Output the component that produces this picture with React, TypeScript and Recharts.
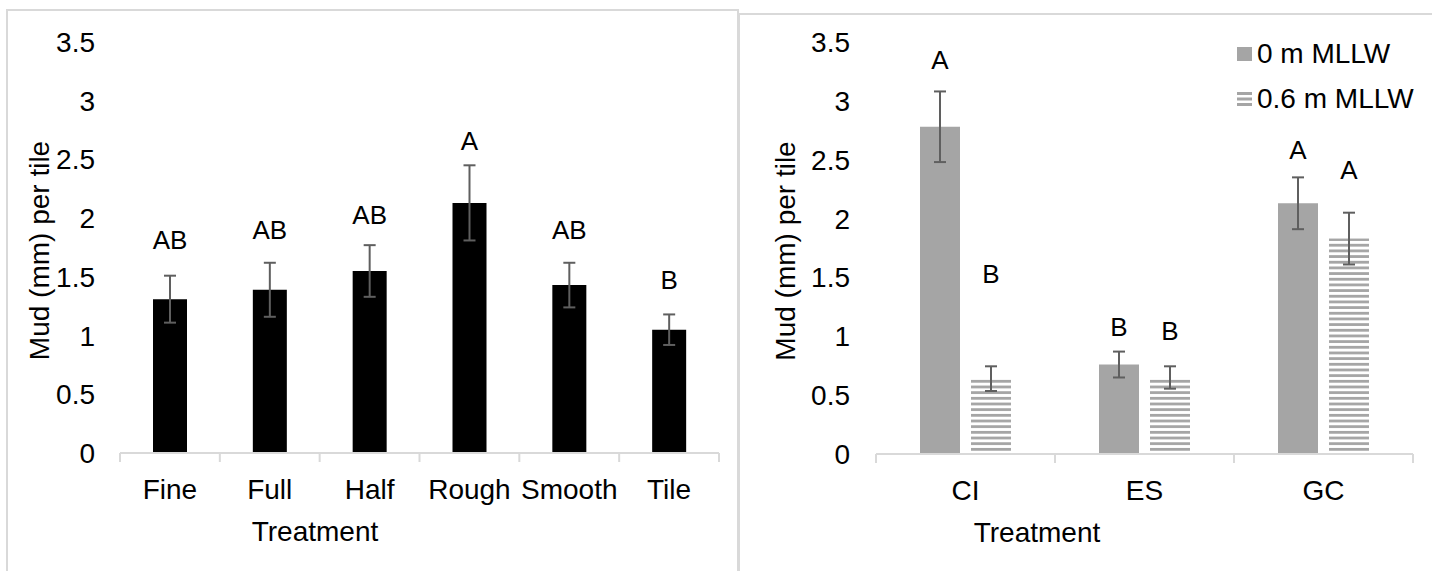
import { BarChart, Bar, XAxis, YAxis, ErrorBar, Legend, LabelList } from 'recharts';

// left panel: mud per tile by surface treatment
const treatments = ['Fine', 'Full', 'Half', 'Rough', 'Smooth', 'Tile'];
const mudMeans = [1.31, 1.39, 1.55, 2.13, 1.43, 1.05];
const mudErrors = [0.2, 0.23, 0.22, 0.32, 0.19, 0.13];
const mudLetters = ['AB', 'AB', 'AB', 'A', 'AB', 'B'];
const mudLetterAt = [1.81, 1.9, 2.03, 2.66, 1.9, 1.47]; // height of each letter, in mm

// right panel: mud per tile by site and tidal height
const sites = ['CI', 'ES', 'GC'];
const lowMeans = [2.78, 0.76, 2.13];
const lowErrors = [0.3, 0.11, 0.22];
const lowLetters = ['A', 'B', 'A'];
const lowLetterAt = [3.35, 1.08, 2.58];
const highMeans = [0.64, 0.65, 1.83];
const highErrors = [0.105, 0.095, 0.22];
const highLetters = ['B', 'B', 'A'];
const highLetterAt = [1.53, 1.045, 2.41];

const yTicks = [0, 0.5, 1, 1.5, 2, 2.5, 3, 3.5];

const FONT = '"Liberation Sans", Arial, sans-serif';
const AXIS_GREY = '#d9d9d9';
const ERR_GREY = '#5f5f5f';
const BAR_GREY = '#a5a5a5';
const TEXT_SIZE = 28;

const leftData = treatments.map((t, i) => ({
  name: t,
  mean: mudMeans[i],
  err: mudErrors[i],
  letter: mudLetters[i],
}));

const rightData = sites.map((s, i) => ({
  name: s,
  low: lowMeans[i],
  lowErr: lowErrors[i],
  lowLetter: lowLetters[i],
  high: highMeans[i],
  highErr: highErrors[i],
  highLetter: highLetters[i],
}));

// significance letter, placed at its own height using the bar's pixel scale
const letterLabel = (means: number[], at: number[]) => (props: any) => {
  const vb = props.viewBox || props;
  const i = props.index ?? 0;
  const pxPerUnit = vb.height / means[i];
  const base = vb.y + vb.height;
  return (
    <text
      x={vb.x + vb.width / 2}
      y={base - at[i] * pxPerUnit}
      textAnchor="middle"
      dominantBaseline="central"
      fontSize={26}
      fontFamily={FONT}
      fill="#000"
    >
      {props.value}
    </text>
  );
};

// category label plus tick marks on the category boundaries
const catTick = (count: number, band: number) => (props: any) => {
  const { x, y, payload } = props;
  const half = payload.offset || band / 2;
  const last = payload.index === count - 1;
  return (
    <g>
      <line x1={x - half} x2={x - half} y1={y} y2={y + 9} stroke={AXIS_GREY} strokeWidth={2} />
      {last && <line x1={x + half} x2={x + half} y1={y} y2={y + 9} stroke={AXIS_GREY} strokeWidth={2} />}
      <text x={x} y={y + 36} textAnchor="middle" dominantBaseline="central" fontSize={TEXT_SIZE} fontFamily={FONT} fill="#000">
        {payload.value}
      </text>
    </g>
  );
};

const xTitle = (dx: number) => (props: any) => {
  const vb = props.viewBox;
  return (
    <text x={vb.x + dx} y={vb.y + 78} textAnchor="middle" dominantBaseline="central" fontSize={TEXT_SIZE} fontFamily={FONT} fill="#000">
      Treatment
    </text>
  );
};

const yTitle = (cx: number) => (props: any) => {
  const vb = props.viewBox;
  const cy = vb.y + vb.height / 2 + 3;
  return (
    <text
      x={cx}
      y={cy}
      transform={`rotate(-90, ${cx}, ${cy})`}
      textAnchor="middle"
      dominantBaseline="central"
      fontSize={TEXT_SIZE}
      fontFamily={FONT}
      fill="#000"
    >
      Mud (mm) per tile
    </text>
  );
};

const StripeIcon = () => (
  <svg width={15} height={14} style={{ display: 'block' }}>
    <rect x={0} y={0} width={15} height={3} fill={BAR_GREY} />
    <rect x={0} y={5.5} width={15} height={3} fill={BAR_GREY} />
    <rect x={0} y={11} width={15} height={3} fill={BAR_GREY} />
  </svg>
);

const renderLegend = (props: any) => {
  const items = props.payload || [];
  return (
    <div style={{ fontFamily: FONT, fontSize: TEXT_SIZE, color: '#000' }}>
      {items.map((entry: any) => (
        <div key={entry.value} style={{ display: 'flex', alignItems: 'center', height: 45, whiteSpace: 'nowrap' }}>
          {entry.dataKey === 'high' ? (
            <StripeIcon />
          ) : (
            <div style={{ width: 15, height: 14, background: BAR_GREY }} />
          )}
          <span style={{ marginLeft: 5 }}>{entry.value}</span>
        </div>
      ))}
    </div>
  );
};

export default function App() {
  return (
    <div style={{ position: 'absolute', left: 0, top: 0, width: 1432, height: 571, overflow: 'hidden', background: '#fff' }}>
      {/* panel frames */}
      <div style={{ position: 'absolute', left: 6, top: 9, width: 729, height: 600, border: `2px solid ${AXIS_GREY}` }} />
      <div style={{ position: 'absolute', left: 738, top: 13, width: 720, height: 600, border: `2px solid ${AXIS_GREY}` }} />

      <div style={{ position: 'absolute', left: 0, top: 0 }}>
        <BarChart width={737} height={571} data={leftData} margin={{ top: 42, right: 18, bottom: 0, left: 0 }}>
          <XAxis
            dataKey="name"
            height={118}
            axisLine={{ stroke: AXIS_GREY, strokeWidth: 2 }}
            tickLine={false}
            tickSize={0}
            tickMargin={0}
            interval={0}
            tick={catTick(treatments.length, 599 / treatments.length)}
            label={{ content: xTitle(195) }}
          />
          <YAxis
            width={120}
            domain={[0, 3.5]}
            ticks={yTicks}
            axisLine={false}
            tickLine={false}
            tickSize={0}
            tickMargin={25}
            tick={{ fontSize: TEXT_SIZE, fill: '#000', fontFamily: FONT }}
            label={{ content: yTitle(39) }}
          />
          <Bar dataKey="mean" fill="#000" barSize={34} isAnimationActive={false}>
            <ErrorBar dataKey="err" width={6} strokeWidth={2} stroke={ERR_GREY} direction="y" />
            <LabelList dataKey="letter" content={letterLabel(mudMeans, mudLetterAt)} />
          </Bar>
        </BarChart>
      </div>

      <div style={{ position: 'absolute', left: 739, top: 0 }}>
        <BarChart
          width={693}
          height={571}
          data={rightData}
          margin={{ top: 42, right: 19, bottom: 0, left: 0 }}
          barSize={40}
          barGap={11}
        >
          <defs>
            <pattern id="hstripe" patternUnits="userSpaceOnUse" width={10} height={5.67}>
              <rect x={0} y={0} width={10} height={5.67} fill="#fff" />
              <rect x={0} y={0} width={10} height={2.8} fill={BAR_GREY} />
            </pattern>
          </defs>
          <XAxis
            dataKey="name"
            height={117}
            axisLine={{ stroke: AXIS_GREY, strokeWidth: 2 }}
            tickLine={false}
            tickSize={0}
            tickMargin={0}
            interval={0}
            tick={catTick(sites.length, 537 / sites.length)}
            label={{ content: xTitle(161) }}
          />
          <YAxis
            width={137}
            domain={[0, 3.5]}
            ticks={yTicks}
            axisLine={false}
            tickLine={false}
            tickSize={0}
            tickMargin={26}
            tick={{ fontSize: TEXT_SIZE, fill: '#000', fontFamily: FONT }}
            label={{ content: yTitle(46) }}
          />
          {/* horizontal + middle + center keeps the legend from taking space off the plot */}
          <Legend
            layout="horizontal"
            verticalAlign="middle"
            align="center"
            content={renderLegend}
            wrapperStyle={{ position: 'absolute', left: 498, top: 31, width: 200 }}
          />
          <Bar dataKey="low" name="0 m MLLW" fill={BAR_GREY} isAnimationActive={false}>
            <ErrorBar dataKey="lowErr" width={6} strokeWidth={2} stroke={ERR_GREY} direction="y" />
            <LabelList dataKey="lowLetter" content={letterLabel(lowMeans, lowLetterAt)} />
          </Bar>
          <Bar dataKey="high" name="0.6 m MLLW" fill="url(#hstripe)" isAnimationActive={false}>
            <ErrorBar dataKey="highErr" width={6} strokeWidth={2} stroke={ERR_GREY} direction="y" />
            <LabelList dataKey="highLetter" content={letterLabel(highMeans, highLetterAt)} />
          </Bar>
        </BarChart>
      </div>
    </div>
  );
}
